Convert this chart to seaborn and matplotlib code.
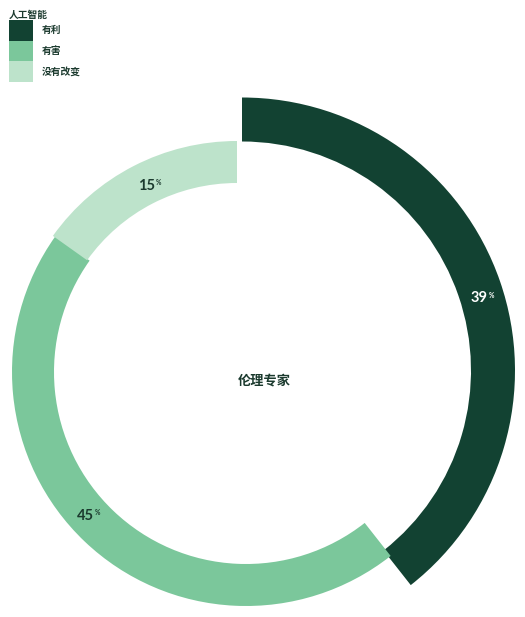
import numpy as np
import matplotlib
matplotlib.use("Agg")
import matplotlib.pyplot as plt
import seaborn as sns

# ---- data ----
legend_title = "人工智能"
categories = ["有利", "有害", "没有改变"]
values = [39, 45, 15]
center_label = "伦理专家"

# ---- style / geometry (pixel units of the 525x617 canvas, y measured from top) ----
colors = ["#124232", "#7bc79b", "#bde3cb"]
label_colors = ["#ffffff", "#1b3a2e", "#1b3a2e"]
seg_centers = [(242, 370.5), (246, 372), (237, 367)]
seg_outer = [273, 234, 226]
seg_inner = [229, 192, 184]
label_shift_deg = [2.4, 3.9, 1.5]   # clockwise shift of label from wedge middle
label_r_shift = [0, 0, -4]

W, H = 525, 617
sns.set_theme(style="white")
plt.rcParams["font.family"] = ["Noto Sans CJK SC", "DejaVu Sans"]

fig = plt.figure(figsize=(W / 100, H / 100), dpi=100)
ax = fig.add_axes([0, 0, 1, 1])

palette = sns.color_palette(colors)
wedges, _ = ax.pie(values, colors=palette, startangle=90, counterclock=False,
                   wedgeprops=dict(linewidth=0))

for w, (cx, cy), ro, ri, tc, v, sh, dr in zip(wedges, seg_centers, seg_outer, seg_inner,
                                              label_colors, values, label_shift_deg,
                                              label_r_shift):
    w.set_center((cx, H - cy))
    w.set_radius(ro)
    w.set_width(ro - ri)
    mid = np.deg2rad((w.theta1 + w.theta2) / 2 - sh)
    rm = (ro + ri) / 2 + dr
    tx = cx + rm * np.cos(mid)
    ty = (H - cy) + rm * np.sin(mid)
    ax.annotate(str(v), (tx, ty), xytext=(-2.2, 0), textcoords="offset points",
                ha="center", va="center", fontsize=10.5, color=tc,
                family="Lato", fontweight="bold")
    ax.annotate("%", (tx, ty), xytext=(6.2, 2.2), textcoords="offset points",
                ha="center", va="center", fontsize=4.8, color=tc,
                family="Lato", fontweight="bold")

ax.text(264, H - 380, center_label, ha="center", va="center", fontsize=9.5,
        fontweight="bold", color="#1b3a2e")

ax.set_xlim(0, W)
ax.set_ylim(0, H)
ax.set_aspect("equal")
ax.axis("off")

leg = fig.legend(wedges, categories, title=legend_title, loc="upper left",
                 bbox_to_anchor=(9 / W, 1 - 10 / H), frameon=False,
                 borderpad=0, borderaxespad=0, fontsize=7,
                 title_fontsize=7, handlelength=2.45, handleheight=2.9,
                 labelspacing=0, handletextpad=0.95, alignment="left")
leg.get_title().set_fontweight("bold")
leg.get_title().set_color("#1b3a2e")
for t in leg.get_texts():
    t.set_fontweight("bold")
    t.set_color("#1b3a2e")

fig.savefig("out.png", dpi=100)
